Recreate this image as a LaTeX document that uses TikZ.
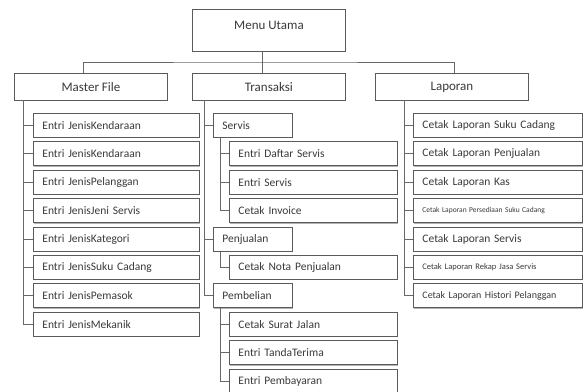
\documentclass[tikz,border=0pt]{standalone}
\usepackage{fontspec}
\setmainfont{Carlito}
\usetikzlibrary{shadows}
\definecolor{boxc}{HTML}{5A5A5A}
\definecolor{linec}{HTML}{686868}
\definecolor{txtc}{HTML}{3A3A3A}
\begin{document}
\begin{tikzpicture}[x=1pt,y=-1pt,
  every node/.style={text=txtc},
  shad/.style={drop shadow={shadow xshift=0.6pt, shadow yshift=-1pt, fill=black!30, opacity=1}},
  topbox/.style={draw=boxc, line width=0.9pt, fill=white, anchor=north west, shad,
     minimum width=153pt, inner sep=0pt, font=\fontsize{13}{15}\selectfont},
  item/.style={draw=boxc, line width=0.9pt, fill=white, anchor=north west, shad,
     minimum height=24pt, inner ysep=0pt, inner xsep=9pt, align=left,
     font=\fontsize{11.5}{13}\selectfont},
  mitem/.style={item, text width=148pt},
  titem/.style={item, text width=150pt},
  litem/.style={item, text width=151pt},
  sub/.style={item, text width=61pt},
  conn/.style={draw=linec, line width=0.9pt}]
\useasboundingbox (0,0) rectangle (585,391);
\def\rowy#1{113+28.4*#1}
% top level
\node[topbox, minimum height=42pt, text depth=10pt] (menu) at (192,9) {Menu Utama};
\node[topbox, minimum height=27pt] (mf) at (14,73) {Master File};
\node[topbox, minimum height=27pt] (tr) at (192,73) {Transaksi};
\node[topbox, minimum height=27pt] (lp) at (375,73) {Laporan};
\coordinate (drop) at (262,51);
\coordinate (bar) at (262,62);
\coordinate (mfd) at (83,73);
\coordinate (lpd) at (454,73);
\draw[conn] (drop) -- (bar);
\draw[conn] (mfd) |- (bar) -| (lpd);
\draw[conn] (bar) -- (bar |- tr.north);
% Master File
\foreach \i/\t in {0/Entri JenisKendaraan,1/Entri JenisKendaraan,2/Entri JenisPelanggan,
  3/Entri JenisJeni Servis,4/Entri JenisKategori,5/Entri JenisSuku Cadang,
  6/Entri JenisPemasok,7/Entri JenisMekanik}
  \node[mitem] (mf\i) at (33,{\rowy{\i}}) {\t};
\coordinate (mfsp) at (23,100);
\draw[conn] (mfsp) |- (mf7.west);
\foreach \i in {0,...,6} \draw[conn] (mfsp |- mf\i.west) -- (mf\i.west);
% Transaksi
\node[sub] (sv) at (213,{\rowy{0}}) {Servis};
\node[titem] (t1) at (229,{\rowy{1}}) {Entri Daftar Servis};
\node[titem] (t2) at (229,{\rowy{2}}) {Entri Servis};
\node[titem] (t3) at (229,{\rowy{3}}) {Cetak Invoice};
\node[sub] (pj) at (213,{\rowy{4}}) {Penjualan};
\node[titem] (t5) at (229,{\rowy{5}}) {Cetak Nota Penjualan};
\node[sub] (pb) at (213,{\rowy{6}}) {Pembelian};
\node[titem] (t7) at (229,{\rowy{7}}) {Cetak Surat Jalan};
\node[titem] (t8) at (229,{\rowy{8}}) {Entri TandaTerima};
\node[titem] (t9) at (229,{\rowy{9}}) {Entri Pembayaran};
\coordinate (trsp) at (204,100);
\draw[conn] (trsp) |- (pb.west);
\draw[conn] (trsp |- sv.west) -- (sv.west);
\draw[conn] (trsp |- pj.west) -- (pj.west);
\coordinate (svsp) at (220,0);
\draw[conn] (svsp |- sv.south) |- (t3.west);
\draw[conn] (svsp |- t1.west) -- (t1.west);
\draw[conn] (svsp |- t2.west) -- (t2.west);
\draw[conn] (svsp |- pj.south) |- (t5.west);
\draw[conn] (svsp |- pb.south) |- (t9.west);
\draw[conn] (svsp |- t7.west) -- (t7.west);
\draw[conn] (svsp |- t8.west) -- (t8.west);
% Laporan
\node[litem] (l0) at (413,{\rowy{0}}) {Cetak Laporan Suku Cadang};
\node[litem] (l1) at (413,{\rowy{1}}) {Cetak Laporan Penjualan};
\node[litem] (l2) at (413,{\rowy{2}}) {Cetak Laporan Kas};
\node[litem, font=\fontsize{7.5}{8}\selectfont] (l3) at (413,{\rowy{3}}) {Cetak Laporan Persediaan Suku Cadang};
\node[litem] (l4) at (413,{\rowy{4}}) {Cetak Laporan Servis};
\node[litem, font=\fontsize{8.5}{9}\selectfont] (l5) at (413,{\rowy{5}}) {Cetak Laporan Rekap Jasa Servis};
\node[litem, font=\fontsize{10}{12}\selectfont] (l6) at (413,{\rowy{6}}) {Cetak Laporan Histori Pelanggan};
\coordinate (lpsp) at (404,100);
\draw[conn] (lpsp) |- (l6.west);
\foreach \i in {0,...,5} \draw[conn] (lpsp |- l\i.west) -- (l\i.west);
\end{tikzpicture}
\end{document}
